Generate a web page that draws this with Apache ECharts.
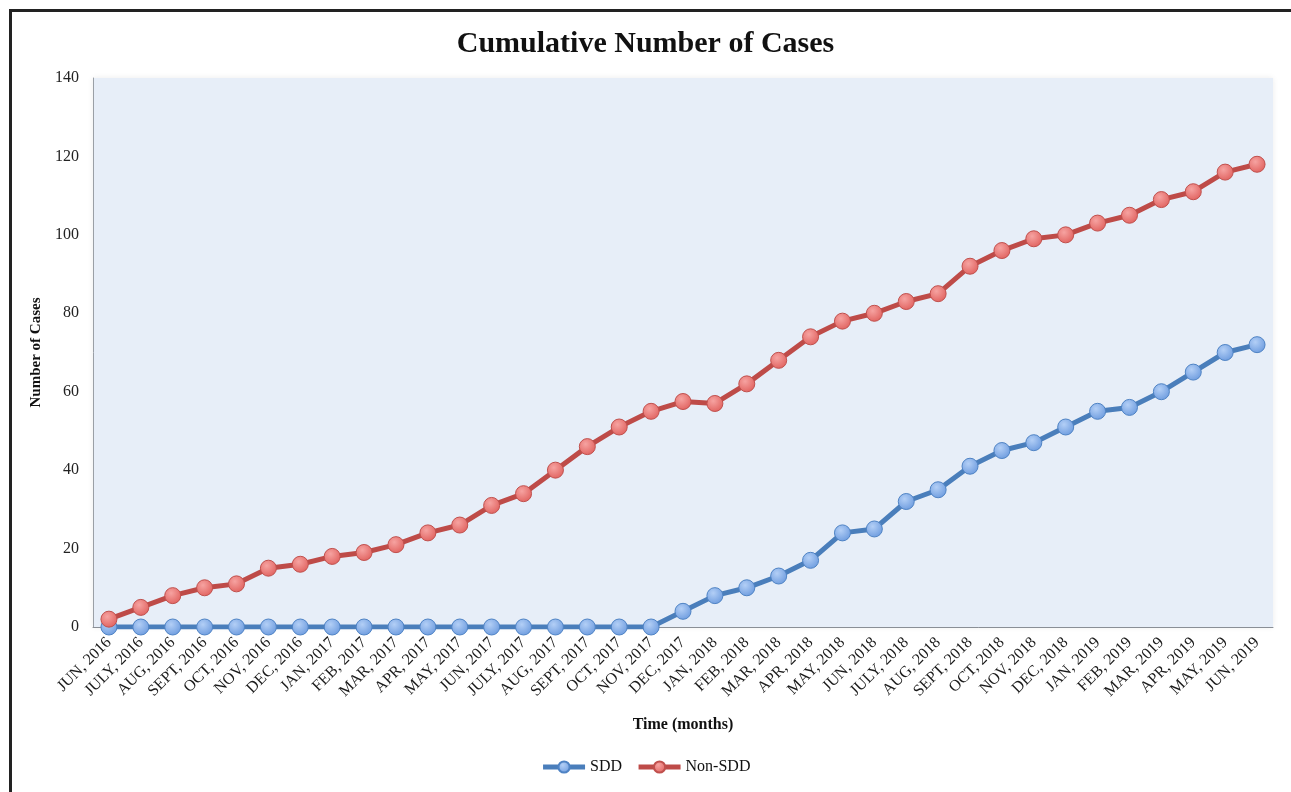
<!DOCTYPE html>
<html>
<head>
<meta charset="utf-8">
<script src="https://cdn.jsdelivr.net/npm/echarts@6/dist/echarts.min.js"></script>
<style>
  html, body { margin: 0; padding: 0; background: #fff; overflow: hidden; }
  #frame { position: absolute; left: 9px; top: 9px; width: 1320px; height: 820px; border: 3px solid #222; box-sizing: border-box; }
  #chart { position: absolute; left: 0; top: 0; width: 1291px; height: 792px; }
</style>
</head>
<body>
<div id="frame"></div>
<div id="chart"></div>
<script>
const months = [
  'JUN, 2016', 'JULY, 2016', 'AUG, 2016', 'SEPT, 2016', 'OCT, 2016', 'NOV, 2016', 'DEC, 2016',
  'JAN, 2017', 'FEB, 2017', 'MAR, 2017', 'APR, 2017', 'MAY, 2017', 'JUN, 2017', 'JULY, 2017',
  'AUG, 2017', 'SEPT, 2017', 'OCT, 2017', 'NOV, 2017', 'DEC, 2017',
  'JAN, 2018', 'FEB, 2018', 'MAR, 2018', 'APR, 2018', 'MAY, 2018', 'JUN, 2018', 'JULY, 2018',
  'AUG, 2018', 'SEPT, 2018', 'OCT, 2018', 'NOV, 2018', 'DEC, 2018',
  'JAN, 2019', 'FEB, 2019', 'MAR, 2019', 'APR, 2019', 'MAY, 2019', 'JUN, 2019'
];

const sdd = [
  0, 0, 0, 0, 0, 0, 0, 0, 0, 0, 0, 0, 0, 0, 0, 0, 0, 0,
  4, 8, 10, 13, 17, 24, 25, 32, 35, 41, 45, 47, 51, 55, 56, 60, 65, 70, 72
];

const nonSdd = [
  2, 5, 8, 10, 11, 15, 16, 18, 19, 21, 24, 26, 31, 34, 40, 46, 51, 55,
  57.5, 57, 62, 68, 74, 78, 80, 83, 85, 92, 96, 99, 100, 103, 105, 109, 111, 116, 118
];

const yTicks = [0, 20, 40, 60, 80, 100, 120, 140];

const serif = '"Liberation Serif", "Times New Roman", serif';

const ball = (light, dark) => ({
  type: 'radial', x: 0.4, y: 0.35, r: 0.7,
  colorStops: [{ offset: 0, color: light }, { offset: 1, color: dark }]
});

const chart = echarts.init(document.getElementById('chart'));

chart.setOption({
  animation: false,
  textStyle: { fontFamily: serif },
  title: {
    text: 'Cumulative Number of Cases',
    left: 'center',
    top: 24,
    textStyle: { fontFamily: serif, fontSize: 30, fontWeight: 'bold', color: '#111' }
  },
  grid: {
    left: 93, right: 18, top: 78, bottom: 165,
    show: true,
    backgroundColor: '#e7eef8',
    borderWidth: 0,
    shadowColor: 'rgba(0,0,0,0.08)',
    shadowBlur: 6
  },
  legend: {
    bottom: 12,
    left: 'center',
    itemWidth: 42,
    itemHeight: 14,
    itemGap: 14,
    textStyle: { fontFamily: serif, fontSize: 16, color: '#111' },
    lineStyle: { width: 5 },
    data: ['SDD', 'Non-SDD']
  },
  xAxis: {
    type: 'category',
    data: months,
    boundaryGap: true,
    name: 'Time (months)',
    nameLocation: 'middle',
    nameGap: 90,
    nameTextStyle: { fontFamily: serif, fontSize: 16, fontWeight: 'bold', color: '#111' },
    axisLine: { lineStyle: { color: '#8a8f96', width: 1 } },
    axisTick: { show: false },
    axisLabel: {
      interval: 0,
      rotate: 45,
      margin: 13,
      fontFamily: serif,
      fontSize: 16,
      color: '#1a1a1a'
    }
  },
  yAxis: {
    type: 'value',
    min: yTicks[0],
    max: yTicks[yTicks.length - 1],
    interval: 20,
    name: 'Number of Cases',
    nameLocation: 'middle',
    nameGap: 44,
    nameTextStyle: { fontFamily: serif, fontSize: 15, fontWeight: 'bold', color: '#111' },
    axisLine: { show: true, lineStyle: { color: '#9a9fa6', width: 1 } },
    axisTick: { show: false },
    splitLine: { show: false },
    axisLabel: { margin: 14, fontFamily: serif, fontSize: 16, color: '#222' }
  },
  series: [
    {
      name: 'SDD',
      type: 'line',
      data: sdd,
      symbol: 'circle',
      symbolSize: 16,
      lineStyle: { color: '#4a7ebb', width: 5 },
      itemStyle: { color: ball('#b3cff6', '#6b9ade'), borderColor: '#4f83c4', borderWidth: 1 },
      z: 2
    },
    {
      name: 'Non-SDD',
      type: 'line',
      data: nonSdd,
      symbol: 'circle',
      symbolSize: 16,
      lineStyle: { color: '#be4b48', width: 5 },
      itemStyle: { color: ball('#f6a3a1', '#e0605d'), borderColor: '#c0504d', borderWidth: 1 },
      z: 3
    }
  ]
});
</script>
</body>
</html>
